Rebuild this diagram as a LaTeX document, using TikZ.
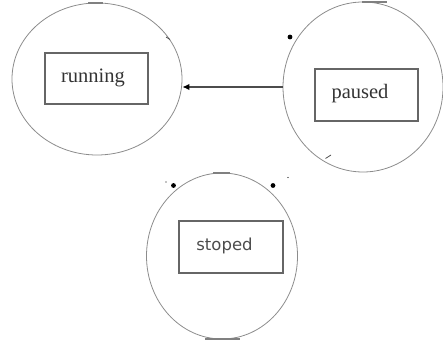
\documentclass[tikz,border=0pt]{standalone}
\usepackage{fontspec}
\setmainfont{Liberation Serif}
\newfontfamily\stopfont{DejaVu Sans}
\usetikzlibrary{shapes.geometric,arrows.meta}
\begin{document}
\begin{tikzpicture}[x=1pt,y=1pt,
  statecirc/.style={ellipse,draw=black!45,line width=0.8pt,inner sep=0pt},
  statebox/.style={rectangle,draw=black!60,line width=1.1pt,inner sep=0pt},
  serlabel/.style={font=\fontsize{20.5}{22}\selectfont,text=black!80,inner sep=0pt},
  sanslabel/.style={font=\stopfont\fontsize{16.5}{18}\selectfont,text=black!70,inner sep=0pt},
  trans/.style={draw=black!70,line width=1.3pt,-{Latex[length=7pt,width=6.5pt,color=black]}},
  dotmark/.style={fill=black},
  seam/.style={draw=black!50,line width=1.6pt}]
\useasboundingbox (0,0) rectangle (443,342);
% state circles
\node[statecirc,minimum width=170pt,minimum height=152pt] (running) at (97,263) {};
\node[statecirc,minimum width=160pt,minimum height=170pt] (paused) at (363,255) {};
\node[statecirc,minimum width=151pt,minimum height=166pt] (stoped) at (222,86) {};
% inner boxes
\node[statebox,minimum width=103pt,minimum height=51pt] (runbox) at (96.5,263.5) {};
\node[statebox,minimum width=103pt,minimum height=52pt] (pausebox) at (366.5,247) {};
\node[statebox,minimum width=104pt,minimum height=52pt] (stopbox) at (231,95) {};
% labels
\node[serlabel] (runtext) at (93,264) {running};
\node[serlabel] (pausetext) at (360,248) {paused};
\node[sanslabel] (stoptext) at (224.5,96) {stoped};
% transition
\draw[trans] (paused.west) -- (paused.west -| running.east);
% small marks
\fill[dotmark] (290,305) circle (2.4pt);
\fill[dotmark] (173.5,156.5) circle (2.4pt);
\fill[dotmark] (273,156.5) circle (2.4pt);
\fill[dotmark] (166,160) circle (0.7pt);
\fill[dotmark] (288,164.5) circle (0.7pt);
\draw[black!70,line width=0.8pt] (166,305) -- (170,302.5);
\draw[black!70,line width=0.8pt] (325.5,183.5) -- (331,187);
% seams on circles
\draw[seam] (88,339.2) -- (103,339.2);
\draw[seam] (362,340) -- (387,340);
\draw[seam] (213,169.2) -- (230,169.2);
\draw[seam] (205,3.2) -- (240,3.2);
\end{tikzpicture}
\end{document}
